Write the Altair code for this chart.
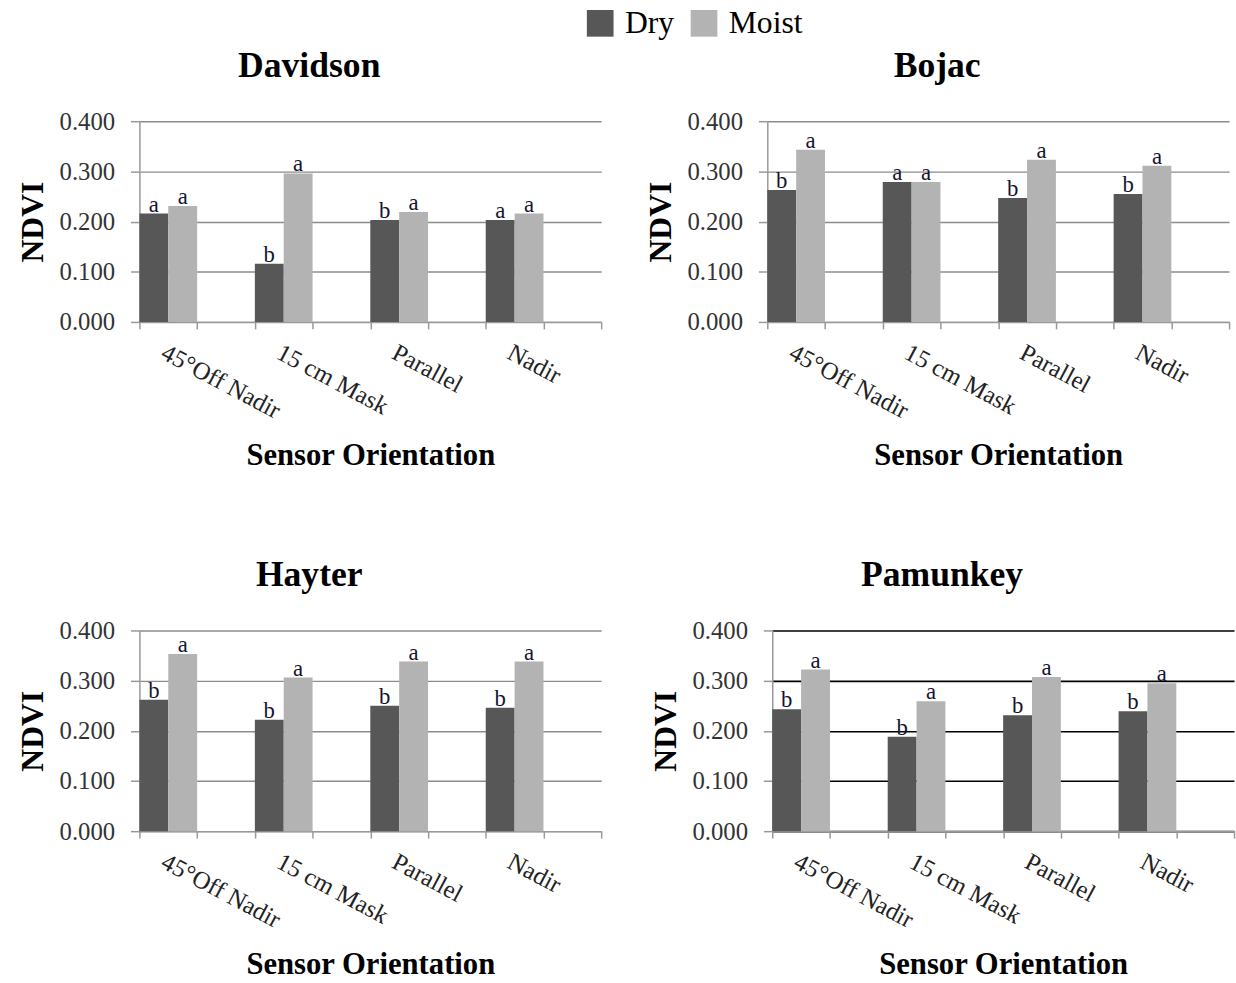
import altair as alt
import pandas as pd

# ---------------- data ----------------
orientations = ["45°Off Nadir", "15 cm Mask", "Parallel", "Nadir"]
moisture = ["Dry", "Moist"]

davidson_dry = [0.216, 0.116, 0.203, 0.203]
davidson_moist = [0.231, 0.296, 0.219, 0.216]
davidson_dry_letters = ["a", "b", "b", "a"]
davidson_moist_letters = ["a", "a", "a", "a"]

bojac_dry = [0.263, 0.279, 0.247, 0.255]
bojac_moist = [0.343, 0.279, 0.323, 0.311]
bojac_dry_letters = ["b", "a", "b", "b"]
bojac_moist_letters = ["a", "a", "a", "a"]

hayter_dry = [0.262, 0.222, 0.250, 0.246]
hayter_moist = [0.353, 0.306, 0.338, 0.338]
hayter_dry_letters = ["b", "b", "b", "b"]
hayter_moist_letters = ["a", "a", "a", "a"]

pamunkey_dry = [0.243, 0.188, 0.231, 0.239]
pamunkey_moist = [0.322, 0.259, 0.307, 0.295]
pamunkey_dry_letters = ["b", "b", "b", "b"]
pamunkey_moist_letters = ["a", "a", "a", "a"]

y_ticks = [0.0, 0.1, 0.2, 0.3, 0.4]

SERIF = "Liberation Serif"
DRY_COLOR = "#575757"
MOIST_COLOR = "#b3b3b3"

# x slots: each orientation has a "bar" slot and an empty "gap" slot
slot_domain = []
for o in orientations:
    slot_domain += [o + "|bar", o + "|gap"]


def make_df(dry, moist, dry_l, moist_l):
    rows = []
    for i, o in enumerate(orientations):
        rows.append({"slot": o + "|bar", "moisture": "Dry", "ndvi": dry[i], "letter": dry_l[i]})
        rows.append({"slot": o + "|bar", "moisture": "Moist", "ndvi": moist[i], "letter": moist_l[i]})
    return pd.DataFrame(rows)


def panel(name, dry, moist, dry_l, moist_l, grid_color, grid_width):
    df = make_df(dry, moist, dry_l, moist_l)
    base = alt.Chart(df)
    x = alt.X(
        "slot:N",
        scale=alt.Scale(domain=slot_domain, paddingInner=0, paddingOuter=0),
        sort=slot_domain,
        axis=alt.Axis(
            title="Sensor Orientation",
            titleFont=SERIF, titleFontSize=31, titleFontWeight="bold", titleColor="#000",
            titlePadding=18,
            labelExpr="split(datum.value, '|')[1] == 'bar' ? split(datum.value, '|')[0] : ''",
            labelAngle=28, labelAlign="left", labelBaseline="top",
            labelFont=SERIF, labelFontSize=25, labelColor="#222", labelPadding=11,
            labelOverlap=False, labelBound=False,
            tickBand="extent", tickSize=7, tickColor="#999", tickWidth=1.5,
            domainColor="#999", domainWidth=1.5, grid=False,
        ),
    )
    xo = alt.XOffset("moisture:N", scale=alt.Scale(domain=moisture, paddingInner=0, paddingOuter=0))
    y = alt.Y(
        "ndvi:Q",
        scale=alt.Scale(domain=[0, 0.4], nice=False),
        axis=alt.Axis(
            title="NDVI",
            titleFont=SERIF, titleFontSize=32, titleFontWeight="bold", titleColor="#000",
            titlePadding=10,
            values=y_ticks, format=".3f",
            labelFont=SERIF, labelFontSize=25, labelColor="#333", labelPadding=16,
            tickSize=9, tickColor="#999", tickWidth=1.5,
            domainColor="#999", domainWidth=1.5,
            grid=True, gridColor=grid_color, gridWidth=grid_width,
        ),
    )
    bars = base.mark_bar().encode(
        x=x, xOffset=xo, y=y,
        color=alt.Color(
            "moisture:N",
            scale=alt.Scale(domain=moisture, range=[DRY_COLOR, MOIST_COLOR]),
            legend=alt.Legend(
                title=None, orient="none", direction="horizontal",
                legendX=450, legendY=-115,
                symbolType="square", symbolSize=729, symbolStrokeWidth=0,
                labelFont=SERIF, labelFontSize=32, labelColor="#000",
                labelOffset=9, columnPadding=14, padding=0,
            ),
        ),
    )
    letters = base.mark_text(
        font=SERIF, fontSize=23, color="#151530", baseline="alphabetic", dy=-2
    ).encode(x=x, xOffset=xo, y=y, text="letter:N")
    return alt.layer(bars, letters).properties(
        width=467, height=203,
        title=alt.TitleParams(
            name, font=SERIF, fontSize=36, fontWeight="bold", color="#000",
            anchor="middle", frame="bounds", offset=25,
        ),
    )


p1 = panel("Davidson", davidson_dry, davidson_moist, davidson_dry_letters, davidson_moist_letters, "#8c8c8c", 1.4)
p2 = panel("Bojac", bojac_dry, bojac_moist, bojac_dry_letters, bojac_moist_letters, "#8c8c8c", 1.4)
p3 = panel("Hayter", hayter_dry, hayter_moist, hayter_dry_letters, hayter_moist_letters, "#8c8c8c", 1.4)
p4 = panel("Pamunkey", pamunkey_dry, pamunkey_moist, pamunkey_dry_letters, pamunkey_moist_letters, "#000000", 1.6)

row1 = alt.hconcat(p1, p2, spacing=41)
row2 = alt.hconcat(p3, p4, spacing=46)

chart = alt.vconcat(row1, row2, spacing=86).properties(
    padding={"left": 16, "top": 2, "right": 0, "bottom": 0},
    background="white",
).configure_view(stroke="transparent")

chart.save("out.html", embed_options={"renderer": "svg", "actions": False})
